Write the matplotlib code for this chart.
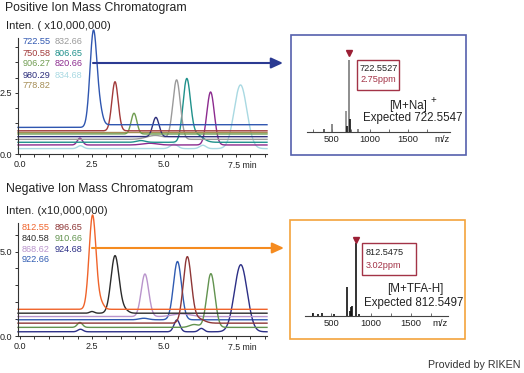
import numpy as np
import matplotlib.pyplot as plt
from matplotlib.patches import Rectangle, FancyArrowPatch
from matplotlib.ticker import MultipleLocator, FixedLocator

plt.rcParams['font.family'] = ['Liberation Sans', 'DejaVu Sans']

W, H = 524, 373

# ---- positive ion chromatogram: m/z label, colour, baseline, peaks (rt, apex, width)
pos_labels = ["722.55", "750.58", "906.27", "980.29", "778.82",
              "832.66", "806.65", "820.66", "834.68"]
pos_colors = ["#2f56b0", "#a23a3a", "#6f9c50", "#2e2f7c", "#a58d55",
              "#9a9a9a", "#1f918b", "#8c2b8f", "#a9d9e2"]
pos_base = [1.09, 0.95, 0.82, 0.71, 0.88, 0.60, 0.48, 0.37, 0.22]
pos_base_after = [1.20, 0.95, 0.82, 0.71, 0.88, 0.60, 0.48, 0.37, 0.22]
pos_peaks = [
    [(2.55, 4.99, 0.12), (2.78, 1.55, 0.10)],
    [(3.30, 2.96, 0.11)],
    [(3.96, 1.67, 0.10)],
    [(4.72, 1.50, 0.11)],
    [],
    [(5.44, 3.03, 0.13), (4.70, 0.76, 0.30)],
    [(5.79, 2.99, 0.13), (6.12, 0.80, 0.22), (4.20, 0.55, 0.15)],
    [(6.62, 2.54, 0.13), (2.08, 0.65, 0.09), (4.50, 0.44, 0.25)],
    [(7.66, 2.83, 0.22), (2.10, 0.34, 0.10), (5.35, 0.40, 0.13), (6.35, 0.36, 0.11)],
]

# ---- negative ion chromatogram
neg_labels = ["812.55", "896.65", "840.58", "910.66", "868.62", "924.68", "922.66"]
neg_colors = ["#f0632a", "#8e3636", "#2b2b2b", "#62934f", "#b994cc", "#2c2f86", "#2f5bb2"]
neg_base = [1.58, 0.76, 1.35, 0.51, 1.15, 0.25, 0.96]
neg_peaks = [
    [(2.52, 7.15, 0.12), (2.80, 1.95, 0.11)],
    [(5.81, 4.61, 0.14), (6.15, 1.05, 0.22)],
    [(3.30, 4.75, 0.14), (2.50, 1.45, 0.08), (3.62, 1.55, 0.13)],
    [(6.63, 3.69, 0.14), (2.08, 0.80, 0.09), (6.05, 0.68, 0.16)],
    [(4.34, 3.67, 0.13), (5.60, 1.32, 0.30)],
    [(7.67, 4.22, 0.22), (5.45, 0.95, 0.10), (6.30, 0.45, 0.09), (2.10, 0.40, 0.09)],
    [(5.47, 4.41, 0.14), (4.30, 1.05, 0.16)],
]

# ---- mass spectra
pos_spec_mz = [393, 503, 679, 700, 722.55, 731, 845]
pos_spec_int = [3, 10, 28, 8, 100, 18, 4]
pos_spec_col = ["#444444", "#777777", "#888888", "#111111", "#7a7a7a", "#111111", "#777777"]
neg_spec_mz = [262, 325, 387, 533, 700, 729, 746, 762, 812.55, 846]
neg_spec_int = [4, 3, 4, 2, 40, 6, 12, 14, 100, 3]


def rect(l, t, r, b):
    return [l / W, 1 - b / H, (r - l) / W, (b - t) / H]


def fx(x):
    return x / W


def fy(y):
    return 1 - y / H


def trace(t, base, after, peaks):
    main = peaks[0][0] if peaks else 0
    y = base + (after - base) / (1 + np.exp(-(t - main) / 0.05))
    for rt, apex, w in peaks:
        y = y + (apex - base) * np.exp(-0.5 * ((t - rt) / w) ** 2)
    return y


fig = plt.figure(figsize=(W / 100, H / 100), dpi=100)


def chrom_axes(r, ytop, spine_top, ymajor, yminor, ylabels):
    ax = fig.add_axes(r)
    ax.set_xlim(-0.07, 8.58)
    ax.set_ylim(0, ytop)
    for s in ['top', 'right']:
        ax.spines[s].set_visible(False)
    ax.spines['left'].set_bounds(0, spine_top)
    for s in ['left', 'bottom']:
        ax.spines[s].set_color('#333333')
        ax.spines[s].set_linewidth(0.8)
    ax.xaxis.set_major_locator(FixedLocator([0, 2.5, 5.0, 7.5]))
    ax.set_xticklabels(["0.0", "2.5", "5.0", ""])
    ax.xaxis.set_minor_locator(MultipleLocator(0.5))
    ax.yaxis.set_major_locator(FixedLocator(ymajor))
    ax.set_yticklabels(ylabels)
    ax.yaxis.set_minor_locator(FixedLocator(yminor))
    ax.tick_params(which='both', direction='out', length=2.5, width=0.7,
                   color='#333333', labelsize=6.5, pad=1.5, labelcolor='#222222')
    ax.text(7.72, -0.06, "7.5 min", transform=ax.get_xaxis_transform(),
            ha='center', va='top', fontsize=6.3, color='#222222')
    return ax


t = np.linspace(-0.07, 8.58, 1200)

# positive
ax1 = chrom_axes(rect(18, 30, 267, 154), 5.08, 4.75, [0, 2.5], np.arange(0, 4.8, 0.625), ["0.0", "2.5"])
for i in range(len(pos_labels) - 1, -1, -1):
    ax1.plot(t, trace(t, pos_base[i], pos_base_after[i], pos_peaks[i]),
             color=pos_colors[i], lw=1.0, clip_on=False)

# negative
ax2 = chrom_axes(rect(18, 212, 267, 336), 7.34, 6.7, [0, 5], np.arange(0, 6.8, 1.0), ["0.0", "5.0"])
for i in range(len(neg_labels) - 1, -1, -1):
    ax2.plot(t, trace(t, neg_base[i], neg_base[i], neg_peaks[i]),
             color=neg_colors[i], lw=1.0, clip_on=False)

# legends
pos_rows = [42, 53, 64, 75, 86]
for i, lab in enumerate(pos_labels):
    col, row = (0, i) if i < 5 else (1, i - 5)
    fig.text(fx(23 + 32 * col), fy(pos_rows[row]), lab, color=pos_colors[i],
             fontsize=6.6, va='center', ha='left')
neg_rows = [228, 238.5, 249, 259.5]
neg_order = [0, 2, 4, 6, 1, 3, 5]
for k, i in enumerate(neg_order):
    col, row = (0, k) if k < 4 else (1, k - 4)
    fig.text(fx(22 + 32.5 * col), fy(neg_rows[row]), neg_labels[i], color=neg_colors[i],
             fontsize=6.6, va='center', ha='left')

# titles
fig.text(fx(5), fy(7.7), "Positive Ion Mass Chromatogram", fontsize=8.8, va='center', color='#222222')
fig.text(fx(6), fy(25.7), "Inten. ( x10,000,000)", fontsize=8.1, va='center', color='#222222')
fig.text(fx(6), fy(189), "Negative Ion Mass Chromatogram", fontsize=8.8, va='center', color='#222222')
fig.text(fx(6.5), fy(211), "Inten. (x10,000,000)", fontsize=8.1, va='center', color='#222222')
fig.text(fx(428), fy(365), "Provided by RIKEN", fontsize=7.7, va='center', color='#333333')

# boxes and arrows
fig.add_artist(Rectangle((fx(291), fy(155)), 175 / W, 120 / H, transform=fig.transFigure,
                         fill=False, ec='#5560ad', lw=1.2))
fig.add_artist(Rectangle((fx(290), fy(339)), 175 / W, 119 / H, transform=fig.transFigure,
                         fill=False, ec='#f3a33c', lw=1.2))
fig.add_artist(FancyArrowPatch((fx(93), fy(63)), (fx(283), fy(63)), transform=fig.transFigure,
                               arrowstyle='-|>,head_length=0.7,head_width=0.32', mutation_scale=10,
                               lw=1.5, color='#2b3a92', shrinkA=0, shrinkB=0))
fig.add_artist(FancyArrowPatch((fx(92), fy(248)), (fx(284), fy(248)), transform=fig.transFigure,
                               arrowstyle='-|>,head_length=0.7,head_width=0.32', mutation_scale=10,
                               lw=1.5, color='#f58b1f', shrinkA=0, shrinkB=0))


def spec_axes(r, xlim, ytop, mz, inten, cols, tri_y):
    ax = fig.add_axes(r)
    ax.set_xlim(*xlim)
    ax.set_ylim(0, ytop)
    for s in ['top', 'right', 'left']:
        ax.spines[s].set_visible(False)
    ax.spines['bottom'].set_color('#444444')
    ax.spines['bottom'].set_linewidth(0.8)
    ax.set_yticks([])
    ax.xaxis.set_major_locator(FixedLocator([500, 1000, 1500]))
    ax.xaxis.set_minor_locator(FixedLocator([250, 750, 1250, 1750]))
    ax.tick_params(which='both', direction='in', length=2.5, width=0.6, color='#555555',
                   labelsize=6.8, pad=2.5, labelcolor='#222222')
    ax.vlines(mz, 0, inten, colors=cols, lw=1.2)
    main = mz[int(np.argmax(inten))]
    ax.plot([main], [tri_y], marker='v', ms=5, color='#9b1f35', clip_on=False)
    ax.text(1.0, -0.04, "m/z", transform=ax.transAxes, ha='right', va='top',
            fontsize=6.8, color='#222222')
    return ax


spec_axes(rect(307, 48, 450, 131.5), (171, 2053), 116, pos_spec_mz, pos_spec_int, pos_spec_col, 109)
spec_axes(rect(305, 234, 448, 315.7), (167, 1965), 113, neg_spec_mz, neg_spec_int, '#111111', 105)

# annotation boxes
fig.add_artist(Rectangle((fx(357), fy(90)), 41.5 / W, 30 / H, transform=fig.transFigure,
                         fill=False, ec='#a33347', lw=1.0))
fig.text(fx(360), fy(68.3), "722.5527", fontsize=6.6, va='center', color='#222222')
fig.text(fx(360), fy(80), "2.75ppm", fontsize=6.6, va='center', color='#a33347')
fig.text(fx(408), fy(106), "[M+Na]", fontsize=8.3, va='center', ha='center', color='#222222')
fig.text(fx(433), fy(100), "+", fontsize=7, va='center', ha='center', color='#222222')
fig.text(fx(463), fy(118), "Expected 722.5547", fontsize=8.3, va='center', ha='right', color='#222222')

fig.add_artist(Rectangle((fx(362), fy(275)), 54 / W, 32 / H, transform=fig.transFigure,
                         fill=False, ec='#a33347', lw=1.0))
fig.text(fx(366), fy(252.7), "812.5475", fontsize=6.6, va='center', color='#222222')
fig.text(fx(366), fy(265), "3.02ppm", fontsize=6.6, va='center', color='#a33347')
fig.text(fx(415), fy(289), "[M+TFA-H]", fontsize=8.3, va='center', ha='center', color='#222222')
fig.text(fx(463), fy(303), "Expected 812.5497", fontsize=8.3, va='center', ha='right', color='#222222')

fig.savefig("out.png", dpi=100)
